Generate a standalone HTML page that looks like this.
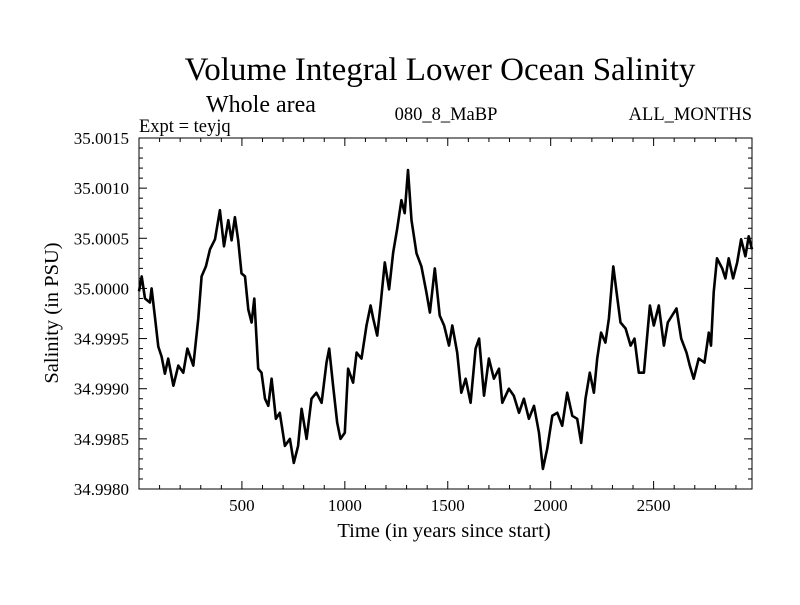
<!DOCTYPE html>
<html><head><meta charset="utf-8"><style>
body{margin:0;background:#fff}
svg text{font-family:"Liberation Serif",serif;fill:#000}
</style></head><body>
<svg id="chart" width="800" height="600">
<rect width="800" height="600" fill="#fff"/>
<text x="440" y="80" font-size="33" text-anchor="middle">Volume Integral Lower Ocean Salinity</text>
<text x="206" y="112" font-size="24">Whole area</text>
<text x="139" y="132" font-size="18.5">Expt = teyjq</text>
<text x="446" y="120" font-size="18.5" text-anchor="middle">080_8_MaBP</text>
<text x="752" y="120" font-size="18.5" text-anchor="end">ALL_MONTHS</text>
<text x="444" y="537" font-size="20.5" text-anchor="middle">Time (in years since start)</text>
<text transform="translate(58,313) rotate(-90)" font-size="20.5" text-anchor="middle">Salinity (in PSU)</text>
<g id="axes"></g>
<path id="series" fill="none" stroke="#000" stroke-width="2.6" stroke-linejoin="round"/>
<rect x="139" y="138" width="613" height="351" fill="none" stroke="#000" stroke-width="1"/>
</svg>
<script>
const years=[0,13,29,53,61,78,94,110,126,142,167,191,215,235,264,288,304,325,345,369,393,413,434,450,466,482,498,515,531,547,560,579,595,612,628,644,665,684,709,733,752,773,790,814,838,862,887,911,924,943,963,979,1000,1016,1040,1057,1081,1105,1125,1138,1157,1173,1194,1215,1235,1254,1275,1291,1307,1324,1348,1372,1396,1413,1437,1461,1482,1506,1522,1546,1566,1587,1611,1635,1652,1676,1700,1724,1749,1765,1797,1821,1846,1870,1894,1919,1943,1962,1983,2008,2032,2056,2080,2105,2129,2148,2169,2190,2210,2226,2245,2266,2283,2304,2320,2339,2364,2388,2407,2428,2453,2482,2501,2525,2550,2569,2590,2611,2634,2660,2676,2695,2719,2747,2768,2779,2792,2808,2833,2849,2865,2886,2906,2925,2946,2962,2978];
const salinity=[34.99997,35.00012,34.9999,34.99986,35.0000,34.9997,34.99942,34.99932,34.99915,34.9993,34.99903,34.99923,34.99916,34.9994,34.99923,34.9997,35.00012,35.00022,35.00039,35.00049,35.00078,35.00042,35.00068,35.00048,35.00071,35.00048,35.00015,35.00012,34.99979,34.99966,34.9999,34.9992,34.99916,34.9989,34.99883,34.9991,34.9987,34.99876,34.99843,34.9985,34.99826,34.99843,34.9988,34.9985,34.9989,34.99896,34.99886,34.99926,34.9994,34.99903,34.99866,34.9985,34.99856,34.9992,34.99906,34.99936,34.9993,34.99963,34.99983,34.9997,34.99953,34.99983,35.00026,34.99999,35.00036,35.00059,35.00088,35.00075,35.00118,35.00068,35.00035,35.00022,34.99996,34.99976,35.0002,34.99973,34.99963,34.99943,34.99963,34.99936,34.99896,34.9991,34.99886,34.9994,34.9995,34.99893,34.9993,34.9991,34.9992,34.99886,34.999,34.99893,34.99876,34.9989,34.9987,34.99883,34.99856,34.9982,34.9984,34.99873,34.99876,34.99863,34.99896,34.99873,34.9987,34.99846,34.9989,34.99916,34.99896,34.9993,34.99956,34.99946,34.9997,35.00022,34.99996,34.99966,34.9996,34.99943,34.9995,34.99916,34.99916,34.99983,34.99963,34.99983,34.99943,34.99966,34.99973,34.9998,34.9995,34.99936,34.99923,34.9991,34.9993,34.99926,34.99956,34.99943,34.99996,35.0003,35.0002,35.0001,35.0003,35.0001,35.00026,35.00049,35.00032,35.00052,35.00039];
const xTickLabels=[500,1000,1500,2000,2500];
const yTickLabels=["34.9980","34.9985","34.9990","34.9995","35.0000","35.0005","35.0010","35.0015"];
const X0=139,X1=752,Y0=489,Y1=138,xMin=0,xMax=2978,yMin=34.998,yMax=35.0015;
const sx=v=>X0+(v-xMin)/(xMax-xMin)*(X1-X0);
const sy=v=>Y0-(v-yMin)/(yMax-yMin)*(Y0-Y1);
const NS="http://www.w3.org/2000/svg";
const axes=document.getElementById('axes');
function ln(x1,y1,x2,y2){const l=document.createElementNS(NS,'line');l.setAttribute('x1',x1);l.setAttribute('y1',y1);l.setAttribute('x2',x2);l.setAttribute('y2',y2);l.setAttribute('stroke','#000');l.setAttribute('stroke-width','1');


axes.appendChild(l);}
function tx(x,y,s,anchor,name){const t=document.createElementNS(NS,'text');t.setAttribute('x',x);t.setAttribute('y',y);t.setAttribute('font-size','17');t.setAttribute('text-anchor',anchor);t.textContent=s;


axes.appendChild(t);}
for(let v=100;v<=2900;v+=100){const x=sx(v);const m=v%500===0;const L=m?8:4;ln(x,Y0,x,Y0-L);ln(x,Y1,x,Y1+L);}
xTickLabels.forEach(v=>tx(sx(v),511,String(v),'middle','x-tick-label'));
for(let i=0;i<=35;i++){const v=yMin+i*0.0001;const y=sy(v);const m=i%5===0;const L=m?8:4;ln(X0,y,X0+L,y);ln(X1,y,X1-L,y);}
yTickLabels.forEach(s=>tx(129,sy(parseFloat(s))+6,s,'end','y-tick-label'));
let d='';years.forEach((yr,i)=>{d+=(i?'L':'M')+sx(yr).toFixed(1)+','+sy(salinity[i]).toFixed(1);});
document.getElementById('series').setAttribute('d',d);
</script>
</body></html>
